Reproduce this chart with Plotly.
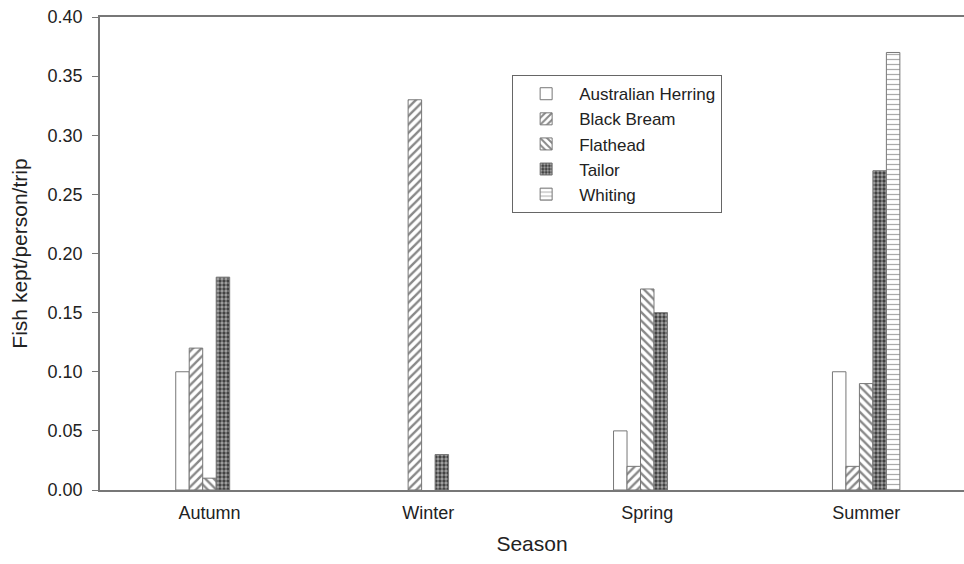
import plotly.graph_objects as go

seasons = ["Autumn", "Winter", "Spring", "Summer"]
species = ["Australian Herring", "Black Bream", "Flathead", "Tailor", "Whiting"]
herring = [0.10, 0.0, 0.05, 0.10]
black_bream = [0.12, 0.33, 0.02, 0.02]
flathead = [0.01, 0.0, 0.17, 0.09]
tailor = [0.18, 0.03, 0.15, 0.27]
whiting = [0.0, 0.0, 0.0, 0.37]
y_ticks = [0.0, 0.05, 0.10, 0.15, 0.20, 0.25, 0.30, 0.35, 0.40]

series = [herring, black_bream, flathead, tailor, whiting]
patterns = [
    dict(shape=""),
    dict(shape="/", size=6, solidity=0.4, fgcolor="#111", bgcolor="white"),
    dict(shape="\\", size=6, solidity=0.4, fgcolor="#111", bgcolor="white"),
    dict(shape=".", size=4, solidity=0.55, fgcolor="white", bgcolor="#3a3a3a"),
    dict(shape="-", size=5, solidity=0.25, fgcolor="#555", bgcolor="white"),
]

FONT = "Arial, Liberation Sans, sans-serif"
fig = go.Figure()
for name, vals, pat in zip(species, series, patterns):
    fig.add_trace(go.Bar(
        x=seasons, y=[v if v else None for v in vals], name=name,
        marker=dict(color="white", pattern=pat, line=dict(color="#777", width=1)),
    ))

fig.update_layout(
    width=964, height=564,
    margin=dict(l=100, r=0, t=17, b=74),
    paper_bgcolor="white", plot_bgcolor="white",
    barmode="group", bargap=0.692, bargroupgap=0,
    font=dict(family=FONT, size=18, color="#222"),
    showlegend=True,
    legend=dict(
        x=0.477, y=0.877, xanchor="left", yanchor="top",
        bgcolor="white", bordercolor="#666", borderwidth=1,
        font=dict(family=FONT, size=17, color="#222"),
        tracegroupgap=0, itemwidth=56,
    ),
    xaxis=dict(
        range=[-0.5, 3.447], showline=True, linecolor="#777", linewidth=1.5,
        mirror=True, ticks="", showgrid=False, zeroline=False,
        tickfont=dict(size=18), ticklabelstandoff=6,
        title=dict(text="Season", font=dict(size=21), standoff=14),
    ),
    yaxis=dict(
        range=[0, 0.4], tickvals=y_ticks, tickformat=".2f",
        showline=True, linecolor="#777", linewidth=1.5, mirror=False,
        ticks="outside", ticklen=6, tickcolor="#777", showgrid=False,
        zeroline=False, tickfont=dict(size=18), ticklabelstandoff=6,
        title=dict(text="Fish kept/person/trip", font=dict(size=21), standoff=14),
    ),
)

fig.write_html("out.html")
